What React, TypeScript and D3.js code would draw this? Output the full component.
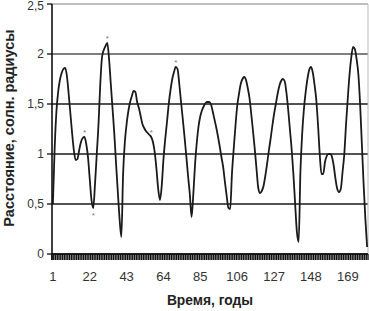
import React from "react";
import * as d3 from "d3";

const years: number[] = Array.from({ length: 180 }, (_, i) => i + 1);

const distance: number[] = [
  0.5, 1.05, 1.42, 1.62, 1.74, 1.81, 1.85, 1.86, 1.78, 1.6,
  1.4, 1.2, 1.03, 0.94, 0.95, 1.04, 1.12, 1.16, 1.17, 1.1,
  0.97, 0.75, 0.54, 0.46, 0.7, 1.0, 1.3, 1.7, 1.97, 2.04,
  2.08, 2.11, 1.95, 1.7, 1.45, 1.2, 0.9, 0.62, 0.35, 0.17,
  0.8, 1.12, 1.3, 1.43, 1.52, 1.58, 1.63, 1.62, 1.52, 1.46,
  1.38, 1.3, 1.26, 1.23, 1.21, 1.19, 1.17, 1.12, 1.02, 0.85,
  0.65, 0.54, 0.68, 0.95, 1.15, 1.32, 1.5, 1.64, 1.75, 1.82,
  1.87, 1.85, 1.7, 1.52, 1.35, 1.17, 0.98, 0.78, 0.6, 0.37,
  0.6, 0.9, 1.12, 1.28, 1.38, 1.44, 1.48, 1.51, 1.52, 1.52,
  1.5, 1.43, 1.35, 1.27, 1.18, 1.08, 0.97, 0.87, 0.72, 0.58,
  0.46, 0.45, 0.8, 1.05, 1.28, 1.48, 1.6, 1.7, 1.75, 1.77,
  1.74, 1.66, 1.56, 1.4, 1.23, 1.05, 0.85, 0.66, 0.61, 0.63,
  0.68, 0.78, 0.9, 1.03, 1.15, 1.28, 1.4, 1.5, 1.6, 1.68,
  1.73, 1.75, 1.73, 1.62, 1.45, 1.25, 1.05, 0.8, 0.5, 0.22,
  0.12, 0.82, 1.2, 1.45, 1.62, 1.75, 1.84, 1.87, 1.82, 1.7,
  1.55, 1.3, 1.0, 0.8, 0.8, 0.92, 0.98, 1.0, 1.0, 0.97,
  0.88, 0.75, 0.65, 0.62, 0.65, 0.82, 1.0, 1.3, 1.56, 1.8,
  1.97, 2.07, 2.05, 1.95, 1.8, 1.5, 1.1, 0.7, 0.35, 0.07,
];

const xTickLabels: number[] = [1, 22, 43, 64, 85, 106, 127, 148, 169];
const yTicks: number[] = [0, 0.5, 1, 1.5, 2, 2.5];
const markedYears: number[] = [19, 24, 32, 57, 71];

const W = 369;
const H = 311;
const left = 52;
const right = 368;
const top = 4;
const bottom = 254;

export default function App() {
  const x = d3.scaleBand<number>().domain(years).range([left, right]).padding(0);
  const y = d3.scaleLinear().domain([0, 2.5]).range([bottom, top]);
  const cx = (yr: number) => (x(yr) as number) + x.bandwidth() / 2;

  const line = d3
    .line<number>()
    .x((_, i) => cx(years[i]))
    .y((d) => y(d))
    .curve(d3.curveMonotoneX);

  const fmt = (v: number) => String(v).replace(".", ",");
  const font = "'Liberation Sans', Arial, sans-serif";

  const tickPositions = years.map((yr) => x(yr) as number).concat([right]);

  return (
    <svg
      width={W}
      height={H}
      style={{ position: "absolute", left: 0, top: 0, background: "#fff" }}
      fontFamily={font}
    >
      <rect x={0} y={0} width={W} height={H} fill="#fff" />
      {yTicks.map((t) => (
        <line
          key={"g" + t}
          x1={left}
          x2={right}
          y1={y(t)}
          y2={y(t)}
          stroke={t === 2.5 ? "#aaa" : t === 2 ? "#555" : "#1a1a1a"}
          strokeWidth={1.4}
        />
      ))}
      <line x1={right} x2={right} y1={top} y2={bottom} stroke="#bbb" strokeWidth={1} />
      {yTicks.map((t) => (
        <g key={"yt" + t}>
          <line x1={left - 5} x2={left} y1={y(t)} y2={y(t)} stroke="#222" strokeWidth={1.4} />
          <text
            x={left - 8}
            y={y(t) + (t === 2.5 ? 1.5 : 0)}
            dy="0.36em"
            textAnchor="end"
            fontSize={12}
            fill="#333"
          >
            {fmt(t)}
          </text>
        </g>
      ))}
      <path d={line(distance) || ""} fill="none" stroke="#1a1a1a" strokeWidth={1.8} />
      {markedYears.map((yr) => {
        const v = distance[yr - 1];
        return (
          <text
            key={"m" + yr}
            x={cx(yr)}
            y={y(v)}
            dy={yr === 24 ? "1.3em" : "-0.2em"}
            textAnchor="middle"
            fontSize={8}
            fill="#777"
          >
            *
          </text>
        );
      })}
      <line x1={left} x2={left} y1={top} y2={bottom + 6} stroke="#111" strokeWidth={1.6} />
      <line x1={left} x2={right} y1={bottom} y2={bottom} stroke="#111" strokeWidth={1.6} />
      {tickPositions.map((p, i) => (
        <line
          key={"xt" + i}
          x1={p}
          x2={p}
          y1={bottom}
          y2={bottom + 6}
          stroke="#111"
          strokeWidth={1.4}
        />
      ))}
      {xTickLabels.map((yr) => (
        <text
          key={"xl" + yr}
          x={cx(yr)}
          y={281}
          textAnchor="middle"
          fontSize={13}
          fill="#333"
        >
          {yr}
        </text>
      ))}
      <text
        x={(left + right) / 2}
        y={305}
        textAnchor="middle"
        fontSize={13.8}
        fontWeight="bold"
        fill="#222"
      >
        Время, годы
      </text>
      <text
        transform={`translate(14, 128) rotate(-90)`}
        textAnchor="middle"
        fontSize={14.5}
        fontWeight="bold"
        fill="#222"
      >
        Расстояние, солн. радиусы
      </text>
    </svg>
  );
}
